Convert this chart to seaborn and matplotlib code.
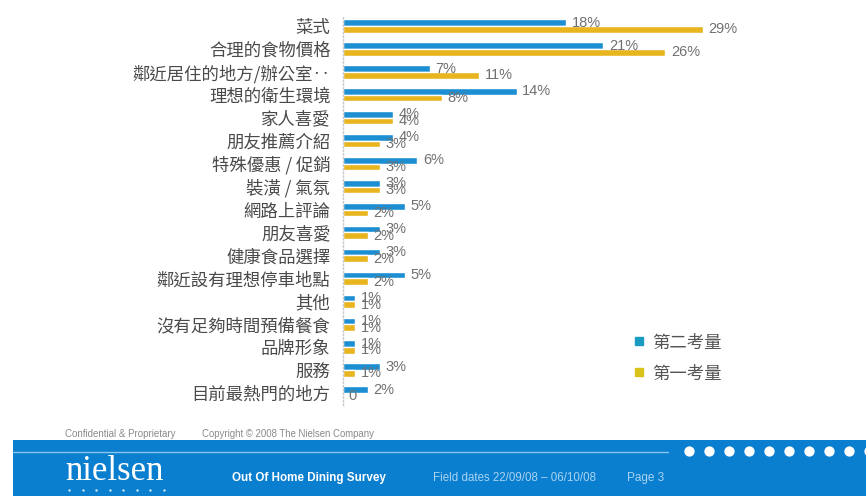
import numpy as np
import pandas as pd
import matplotlib
matplotlib.use("Agg")
import matplotlib.pyplot as plt
import seaborn as sns
from matplotlib.lines import Line2D
from matplotlib.patches import Rectangle

sns.set_style("white")
plt.rcParams["font.family"] = ["Noto Sans CJK TC", "DejaVu Sans"]

# ----------------------------------------------------------
# DATOS
# ----------------------------------------------------------

categorias = [
    "菜式", "合理的食物價格", "鄰近居住的地方/辦公室‥", "理想的衛生環境",
    "家人喜愛", "朋友推薦介紹", "特殊優惠 / 促銷", "裝潢 / 氣氛",
    "網路上評論", "朋友喜愛", "健康食品選擇", "鄰近設有理想停車地點",
    "其他", "沒有足夠時間預備餐食", "品牌形象", "服務", "目前最熱門的地方",
]
segundo = [18, 21, 7, 14, 4, 4, 6, 3, 5, 3, 3, 5, 1, 1, 1, 3, 2]
primero = [29, 26, 11, 8, 4, 3, 3, 3, 2, 2, 2, 2, 1, 1, 1, 1, 0]
series = ["第二考量", "第一考量"]
colores = ["#1c8fd2", "#e8b51e"]

df = pd.DataFrame({
    "item": categorias * 2,
    "valor": segundo + primero,
    "serie": [series[0]] * len(categorias) + [series[1]] * len(categorias),
})

# ----------------------------------------------------------
# FIGURA
# ----------------------------------------------------------

fig = plt.figure(figsize=(8.66, 4.96), dpi=100)
ax = fig.add_axes([343 / 866, 91.5 / 496, 496 / 866, 390 / 496])

sns.barplot(
    data=df, x="valor", y="item", hue="serie",
    hue_order=series, palette=colores, orient="h",
    width=0.58, gap=0, saturation=1, legend=False, ax=ax,
)

for cont, vals in zip(ax.containers, [segundo, primero]):
    etiquetas = [f"{v}%" if v > 0 else "0" for v in vals]
    ax.bar_label(cont, labels=etiquetas, padding=4, color="#707070",
                 fontsize=10.5, family=["Liberation Sans", "DejaVu Sans"])

ax.set_xlim(0, 40)
ax.set_xlabel("")
ax.set_ylabel("")
ax.set_xticks([])
ax.tick_params(axis="y", length=0, pad=9, labelsize=12.5, labelcolor="#4a4a4a")
for s in ["top", "right", "bottom"]:
    ax.spines[s].set_visible(False)
ax.spines["left"].set_color("#c8c8c8")
ax.spines["left"].set_linestyle(":")
ax.spines["left"].set_linewidth(1)

handles = [
    Line2D([], [], marker="s", linestyle="", markersize=6,
           markerfacecolor=c, markeredgecolor=c)
    for c in ["#1a9bc0", "#d9c21a"]
]
fig.legend(handles, series, loc="center left",
           bbox_to_anchor=(617 / 866, 1 - 358 / 496),
           frameon=False, fontsize=12.5, labelcolor="#555555",
           handlelength=0.7, handletextpad=0.4, labelspacing=0.75)

# ----------------------------------------------------------
# PIE DE PAGINA
# ----------------------------------------------------------

pie = fig.add_axes([0, 0, 1, 1], zorder=-1)
pie.set_xlim(0, 866)
pie.set_ylim(496, 0)
pie.axis("off")

pie.add_patch(Rectangle((13, 440), 853, 56, color="#0b7fcf", lw=0))
pie.plot([13, 668], [452, 452], color="#86c4f0", lw=1)
pie.scatter(np.arange(689, 870, 20), np.full(10, 451), s=55, color="white", lw=0)
pie.scatter(np.arange(69, 166, 13.5), np.full(8, 490), s=3, color="#cfe6f7", lw=0)

fig_txt = dict(family=["Liberation Sans", "DejaVu Sans"], va="center")
pie.text(65, 434, "Confidential & Proprietary", fontsize=7, color="#8a8a8a", **fig_txt)
pie.text(202, 434, "Copyright © 2008 The Nielsen Company", fontsize=6.9,
         color="#8a8a8a", **fig_txt)
pie.text(65, 472, "nielsen", fontsize=25, color="white",
         family=["Liberation Serif", "DejaVu Serif"], va="center")
pie.text(232, 478, "Out Of Home Dining Survey", fontsize=8.4, color="white",
         fontweight="bold", **fig_txt)
pie.text(433, 478, "Field dates 22/09/08 – 06/10/08", fontsize=8.3,
         color="#a9d3f2", **fig_txt)
pie.text(627, 478, "Page 3", fontsize=8.5, color="#a9d3f2", **fig_txt)

fig.savefig("out.png", dpi=100)
